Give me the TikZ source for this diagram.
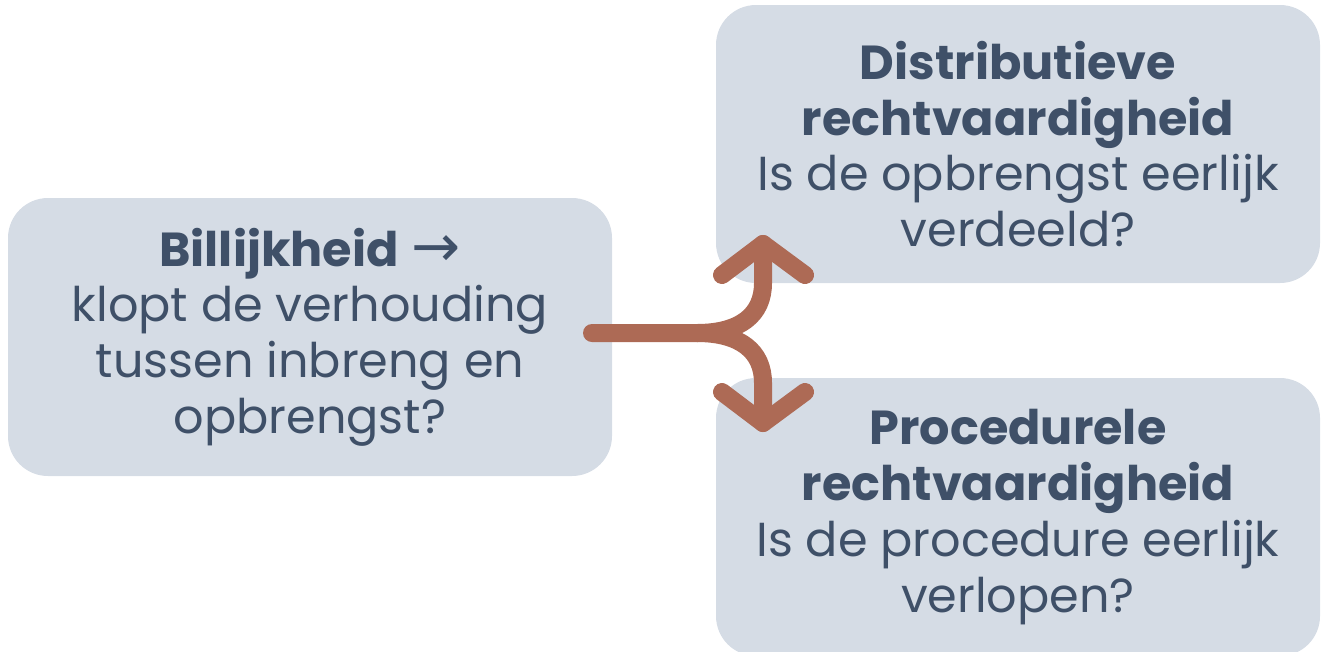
\documentclass[tikz,border=0pt]{standalone}
\usepackage{fontspec}
\setmainfont{Poppins}
\newfontfamily\arrowfont{DejaVu Sans}
\usepackage{tikz}
\definecolor{boxfill}{HTML}{D5DCE5}
\definecolor{textslate}{HTML}{3F5068}
\definecolor{arrowbrown}{HTML}{AD6A55}

\tikzset{
  infobox/.style={fill=boxfill, rounded corners=30pt, inner sep=0pt,
    minimum width=453pt, minimum height=208.5pt, align=center,
    text=textslate, font=\fontsize{35.8}{41.8}\selectfont},
  splitline/.style={draw=arrowbrown, line width=13.5pt, line cap=round, line join=round}
}

\begin{document}
\begin{tikzpicture}[x=0.75pt,y=0.75pt,yscale=-1,xscale=1]
\useasboundingbox (0,0) rectangle (1324,651);
\clip (0,0) rectangle (1324,651);

% Boxes
\node[infobox] (billijk) at (310,337) {\textbf{Billijkheid} {\arrowfont\fontsize{44}{41.8}\selectfont →}\\klopt de verhouding\\tussen inbreng en\\opbrengst?};
\node[infobox] (distr) at (1018,144) {\textbf{Distributieve}\\\textbf{rechtvaardigheid}\\Is de opbrengst eerlijk\\verdeeld?};
\node[infobox] (proc) at (1018,517) {\textbf{Procedurele}\\\textbf{rechtvaardigheid}\\Is de procedure eerlijk\\verlopen?};

% Split arrow
\coordinate (start) at (592,333);
\coordinate (fork) at (697,333);
\coordinate (uptip) at (763,244);
\coordinate (downtip) at (763,423);
\draw[splitline] (start) -- (fork) .. controls (740,333) and (763,315) .. (763,283) -- (uptip);
\draw[splitline] (fork) .. controls (740,333) and (763,351) .. (763,383) -- (downtip);
\draw[splitline] (722,275) -- (uptip) -- (805,275);
\draw[splitline] (722,392) -- (downtip) -- (805,392);

\end{tikzpicture}
\end{document}
